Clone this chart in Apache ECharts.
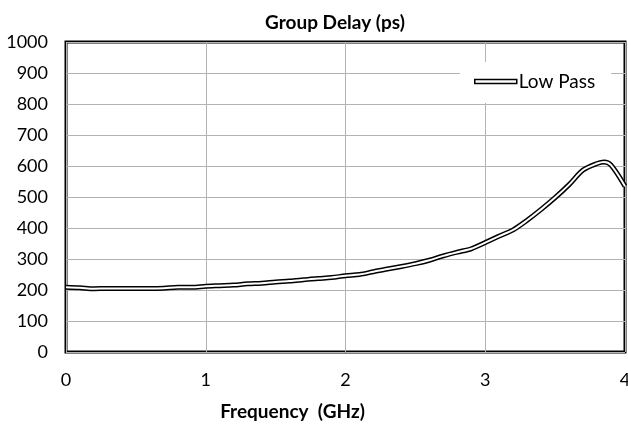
<!DOCTYPE html>
<html>
<head>
<meta charset="utf-8">
<script src="https://cdn.jsdelivr.net/npm/echarts@6/dist/echarts.min.js"></script>
<style>
  html, body { margin: 0; padding: 0; background: #fff; }
  #chart { width: 628px; height: 424px; }
</style>
</head>
<body>
<div id="chart"></div>
<script>
// frequency (GHz) and group delay (ps)
const freqGHz = [0, 0.1, 0.2, 0.3, 0.4, 0.5, 0.6, 0.7, 0.8, 0.9,
  1.0, 1.1, 1.2, 1.3, 1.4, 1.5, 1.6, 1.7, 1.8, 1.9,
  2.0, 2.1, 2.2, 2.3, 2.4, 2.5, 2.6, 2.7, 2.8, 2.9,
  3.0, 3.1, 3.2, 3.3, 3.4, 3.5, 3.6, 3.7, 3.8, 3.85, 3.9, 4.0]
const delayPs = [209, 207, 204, 205, 205, 205, 205, 206, 209, 209,
  212, 214, 216, 220, 222, 226, 229, 233, 237, 240,
  246, 250, 259, 268, 276, 285, 296, 310, 322, 333,
  353, 374, 394, 425, 460, 498, 540, 587, 608, 613, 603, 535]
const seriesName = 'Low Pass'

const pts = freqGHz.map((f, i) => [f, delayPs[i]])
const font = 'Lato, "Open Sans", sans-serif'

const chart = echarts.init(document.getElementById('chart'))
chart.setOption({
  animation: false,
  title: {
    text: 'Group Delay (ps)',
    left: 330,
    textAlign: 'center',
    top: 8,
    textStyle: { fontFamily: font, fontSize: 19, fontWeight: 'bold', color: '#000' }
  },
  grid: {
    left: 66, right: 3, top: 42, bottom: 72,
    outerBoundsMode: 'none',
    show: true, borderColor: '#000', borderWidth: 3, backgroundColor: 'transparent'
  },
  legend: {
    data: [seriesName],
    left: 460, top: 62,
    backgroundColor: '#fff',
    padding: [10, 16, 12, 14],
    icon: 'rect',
    itemWidth: 42, itemHeight: 4,
    itemGap: 2,
    itemStyle: { color: '#fff', borderColor: '#000', borderWidth: 1.5 },
    textStyle: { fontFamily: font, fontSize: 19, color: '#000', padding: [0, 0, 0, -3] }
  },
  xAxis: {
    type: 'value', min: 0, max: 4, interval: 1,
    name: 'Frequency  (GHz)',
    nameLocation: 'middle', nameGap: 50,
    nameTextStyle: { fontFamily: font, fontSize: 19, fontWeight: 'bold', color: '#000', padding: [0, 106, 0, 0] },
    axisLine: { show: false },
    axisTick: { show: false },
    axisLabel: { fontFamily: font, fontSize: 18, color: '#000', margin: 19 },
    splitLine: { show: true, lineStyle: { color: '#b3b3b3', width: 1 } }
  },
  yAxis: {
    type: 'value', min: 0, max: 1000, interval: 100,
    axisLine: { show: false },
    axisTick: { show: false },
    axisLabel: { fontFamily: font, fontSize: 18, color: '#000', margin: 18, formatter: v => String(v) },
    splitLine: { show: true, lineStyle: { color: '#b3b3b3', width: 1 } }
  },
  series: [
    {
      name: seriesName,
      type: 'line',
      data: pts,
      smooth: 0.3,
      showSymbol: false,
      symbol: 'none',
      lineStyle: { color: '#000', width: 5 },
      itemStyle: { color: '#fff', borderColor: '#000' },
      z: 3
    },
    {
      name: 'inner',
      type: 'line',
      data: pts,
      smooth: 0.3,
      showSymbol: false,
      symbol: 'none',
      lineStyle: { color: '#fff', width: 2 },
      z: 4
    }
  ]
})
</script>
</body>
</html>
